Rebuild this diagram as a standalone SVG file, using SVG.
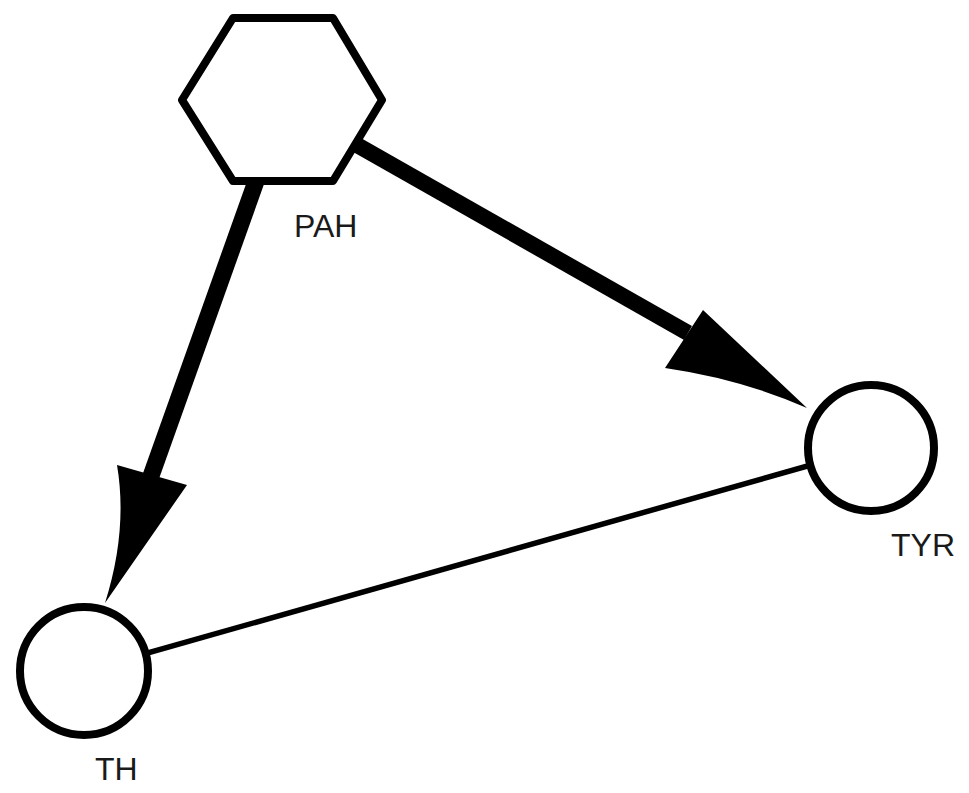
<svg xmlns="http://www.w3.org/2000/svg" width="969" height="793" viewBox="0 0 969 793">
<style>
.node{fill:#fff;stroke:#000;stroke-width:8;stroke-linejoin:round}
.edge{stroke:#000;fill:none;stroke-linecap:butt}
.head{fill:#000;stroke:none}
.lbl{font-family:"Liberation Sans",Arial,Helvetica,sans-serif;font-size:32px;fill:#1a1a1a}
</style>
<rect width="969" height="793" fill="#fff"/>
<g id="connectors">
<g id="edge-PAH-TYR">
<line class="edge" x1="283" y1="103" x2="688" y2="333" stroke-width="16"/>
<path class="head" d="M703,310 L807,408 Q741,379 665,368 Z"/>
</g>
<g id="edge-PAH-TH">
<line class="edge" x1="285" y1="100" x2="151" y2="476" stroke-width="17"/>
<path class="head" d="M187,485 L105,603 Q128,530 117,465 Z"/>
</g>
<g id="edge-TH-TYR">
<line class="edge" x1="84" y1="671" x2="871" y2="448" stroke-width="5.5"/>
</g>
</g>
<g id="node-PAH">
<polygon class="node" points="233,18 333,18 382,100 333,181 233,181 182,100"/>
<text class="lbl" x="294" y="237">PAH</text>
</g>
<g id="node-TYR">
<circle class="node" cx="871" cy="448" r="63"/>
<text class="lbl" x="891" y="556">TYR</text>
</g>
<g id="node-TH">
<circle class="node" cx="84" cy="671" r="64"/>
<text class="lbl" x="95" y="780">TH</text>
</g>
</svg>
